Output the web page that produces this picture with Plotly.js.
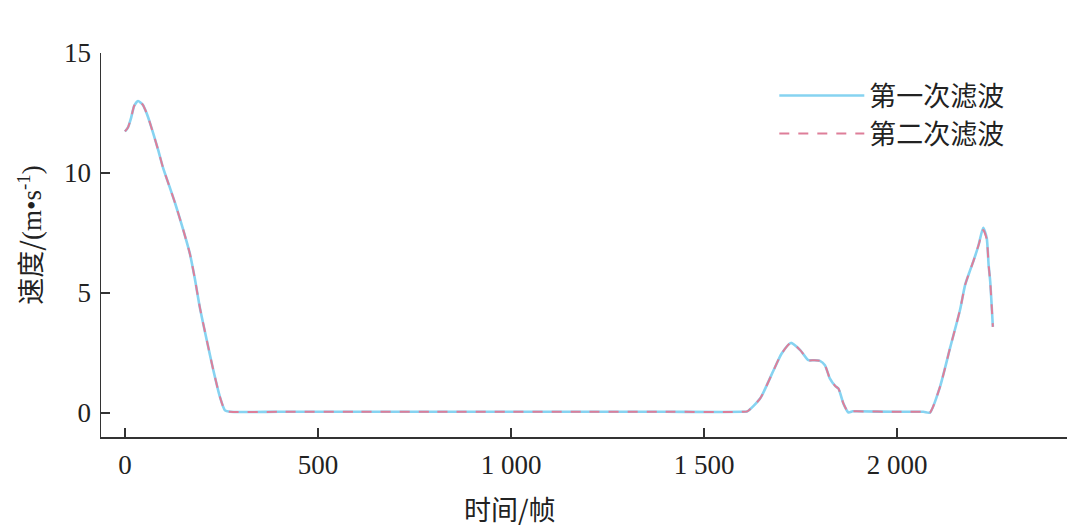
<!DOCTYPE html>
<html>
<head>
<meta charset="utf-8">
<script src="https://cdn.plot.ly/plotly-3.0.1.min.js"></script>
<style>html,body{margin:0;padding:0;background:#fff;}#chart{width:1080px;height:529px;}</style>
</head>
<body>
<div id="chart"></div>
<script>
// Frame index (时间/帧)
var frames = [0, 8, 16, 24, 34, 46, 56, 65, 86, 99, 115, 130, 151, 168, 181, 194, 212, 229, 246, 259, 272,
  400, 600, 800, 1000, 1200, 1400, 1600, 1612, 1645, 1680, 1701, 1725, 1749, 1770, 1785, 1800, 1813,
  1826, 1840, 1848, 1861, 1874, 1885, 1895, 2000, 2068, 2085, 2111, 2137, 2163, 2176, 2188, 2198, 2211,
  2223, 2232, 2237, 2241, 2248];
// 第一次滤波 speed (m/s)
var speed1 = [11.73, 11.9, 12.3, 12.8, 13.0, 12.85, 12.5, 12.08, 10.96, 10.2, 9.45, 8.74, 7.63, 6.65, 5.6, 4.4, 3.03, 1.78, 0.67, 0.11, 0.05,
  0.05, 0.05, 0.05, 0.05, 0.05, 0.05, 0.05, 0.07, 0.6, 1.78, 2.48, 2.92, 2.62, 2.2, 2.2, 2.17, 1.99,
  1.43, 1.12, 1.02, 0.39, 0.02, 0.07, 0.07, 0.05, 0.05, 0.02, 1.09, 2.7, 4.3, 5.33, 5.9, 6.35, 7.0,
  7.72, 7.3, 6.16, 5.5, 3.59];
// 第二次滤波 speed (m/s)
var speed2 = [11.73, 11.9, 12.3, 12.8, 13.0, 12.85, 12.5, 12.08, 10.96, 10.2, 9.45, 8.74, 7.63, 6.65, 5.6, 4.4, 3.03, 1.78, 0.67, 0.11, 0.05,
  0.05, 0.05, 0.05, 0.05, 0.05, 0.05, 0.05, 0.07, 0.6, 1.78, 2.48, 2.92, 2.62, 2.2, 2.2, 2.17, 1.99,
  1.43, 1.12, 1.02, 0.39, 0.02, 0.07, 0.07, 0.05, 0.05, 0.02, 1.09, 2.7, 4.3, 5.33, 5.9, 6.35, 7.0,
  7.62, 7.25, 6.16, 5.5, 3.59];
var seriesNames = ['第一次滤波', '第二次滤波'];
var xTickVals = [0, 500, 1000, 1500, 2000];
var xTickText = ['0', '500', '1 000', '1 500', '2 000'];
var yTickVals = [0, 5, 10, 15];

var FONT = 'Liberation Serif, Times New Roman, Noto Sans CJK SC, serif';
var CJK = 'Noto Sans CJK SC, sans-serif';

var traces = [
  {x: frames, y: speed1, name: seriesNames[0], type: 'scatter', mode: 'lines',
   line: {color: '#86d3f1', width: 2.6, shape: 'spline', smoothing: 0.6}},
  {x: frames, y: speed2, name: seriesNames[1], type: 'scatter', mode: 'lines',
   line: {color: '#de7e99', width: 2, dash: '10px,9px', shape: 'spline', smoothing: 0.6}}
];

var axisCommon = {
  showline: true, linecolor: '#333', linewidth: 1.5,
  ticks: 'inside', ticklen: 9, tickwidth: 1.5, tickcolor: '#333',
  showgrid: false, zeroline: false,
  tickfont: {family: FONT, size: 27, color: '#222'}
};

var layout = {
  width: 1080, height: 529,
  margin: {l: 101, r: 13, t: 53.3, b: 92.3},
  paper_bgcolor: '#fff', plot_bgcolor: '#fff',
  showlegend: true,
  legend: {x: 0.697, y: 0.952, xanchor: 'left', yanchor: 'top', bgcolor: 'rgba(0,0,0,0)',
    font: {family: CJK, size: 27, color: '#222'}, itemwidth: 85, tracegroupgap: 0},
  xaxis: Object.assign({}, axisCommon, {range: [-62, 2440], tickmode: 'array', tickvals: xTickVals, ticktext: xTickText, ticklabelstandoff: 3}),
  yaxis: Object.assign({}, axisCommon, {range: [-1, 15], tickmode: 'array', tickvals: yTickVals, ticklabelstandoff: 3}),
  annotations: [
    {text: '时间/帧', xref: 'paper', yref: 'paper', x: 0.4234, y: -0.186, xanchor: 'center', yanchor: 'middle',
     showarrow: false, font: {family: CJK, size: 27, color: '#222'}},
    {text: '速度/<span style="font-family:Liberation Serif">(m•s<sup>-1</sup>)</span>', xref: 'paper', yref: 'paper', x: -0.0735, y: 0.527,
     xanchor: 'center', yanchor: 'middle', textangle: -90, showarrow: false, font: {family: CJK, size: 27, color: '#222'}}
  ]
};

Plotly.newPlot('chart', traces, layout, {displayModeBar: false, staticPlot: true});
</script>
</body>
</html>
